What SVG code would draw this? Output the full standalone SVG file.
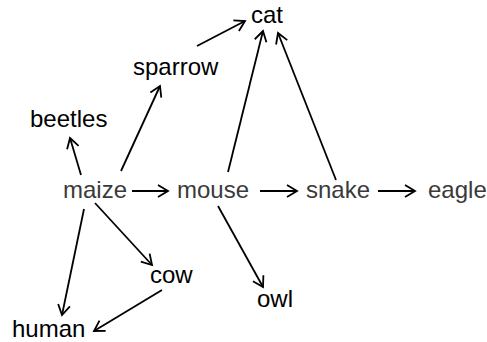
<svg xmlns="http://www.w3.org/2000/svg" width="487" height="342" viewBox="0 0 487 342">
<defs>
<style>
text{font-family:"Liberation Sans",Arial,sans-serif;font-size:24px;fill:#000}
.g{fill:#3a3a3a}
.e{stroke:#000;stroke-width:1.8;fill:none;marker-end:url(#a)}
</style>
<marker id="a" markerUnits="userSpaceOnUse" markerWidth="16" markerHeight="16" viewBox="-12 -8 14 16" refX="0" refY="0" orient="auto">
<path d="M-10,-6 L0,0 L-10,6" fill="none" stroke="#000" stroke-width="1.8"/>
</marker>
</defs>
<rect width="487" height="342" fill="#fff"/>
<g id="connectors">
<line class="e" x1="197" y1="46" x2="245" y2="21"/>
<line class="e" x1="228" y1="172" x2="263" y2="31"/>
<line class="e" x1="336" y1="180" x2="278" y2="33"/>
<line class="e" x1="121" y1="171" x2="160" y2="86"/>
<line class="e" x1="81" y1="175" x2="70" y2="138"/>
<line class="e" x1="132" y1="191" x2="168" y2="191"/>
<line class="e" x1="260" y1="191" x2="297" y2="191"/>
<line class="e" x1="378" y1="191" x2="415" y2="191"/>
<line class="e" x1="84" y1="209" x2="62" y2="315"/>
<line class="e" x1="95" y1="203" x2="152" y2="265"/>
<line class="e" x1="162" y1="290" x2="94" y2="331"/>
<line class="e" x1="218" y1="206" x2="263" y2="287"/>
</g>
<g id="cat"><text x="251" y="22.5">cat</text></g>
<g id="sparrow"><text x="133" y="75">sparrow</text></g>
<g id="beetles"><text x="30" y="127">beetles</text></g>
<g id="maize"><text class="g" x="63" y="198">maize</text></g>
<g id="mouse"><text class="g" x="177" y="198">mouse</text></g>
<g id="snake"><text class="g" x="306" y="198">snake</text></g>
<g id="eagle"><text class="g" x="428" y="198">eagle</text></g>
<g id="cow"><text x="150" y="283">cow</text></g>
<g id="owl"><text x="257" y="307">owl</text></g>
<g id="human"><text x="12" y="337">human</text></g>
</svg>
